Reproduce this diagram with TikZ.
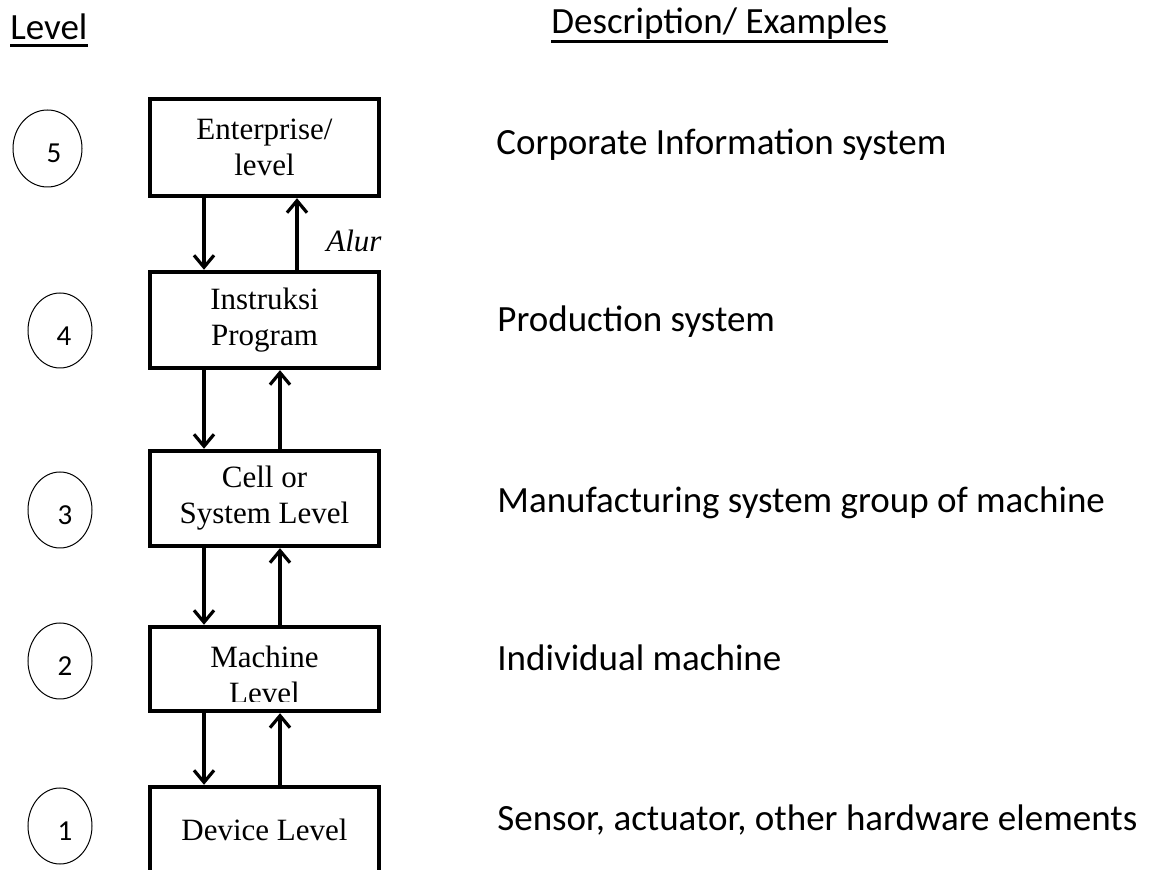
\documentclass[tikz,border=0pt]{standalone}
\usepackage{fontspec}
\setmainfont{Liberation Serif}
\newfontfamily\calfont{Carlito}
\usetikzlibrary{arrows.meta,shapes.geometric}
\tikzset{
  lvlbox/.style={draw, line width=2.2pt, minimum width=114.5pt, align=center,
    font=\fontsize{15.5}{18}\selectfont, inner sep=0pt},
  boxtext/.style={align=center, font=\fontsize{15.5}{18}\selectfont, inner sep=0pt},
  desc/.style={anchor=base west, font=\calfont\fontsize{18.5}{22}\selectfont, inner sep=0pt},
  lvlcirc/.style={draw, ellipse, line width=0.5pt, inner sep=0pt},
  lvlnum/.style={font=\calfont\fontsize{14.5}{17}\selectfont, inner sep=0pt},
  flow/.style={line width=1.6pt, -{Straight Barb[length=6pt,width=10pt]}},
  uline/.style={line width=1.5pt},
}
\begin{document}
\begin{tikzpicture}[x=0.5pt,y=-0.5pt]
\clip (0,0) rectangle (1157,870);
\fill[white] (0,0) rectangle (1157,870);

% headers
\node[desc] (hlevel) at (10,40) {Level};
\draw[uline] ([yshift=-3pt]hlevel.base west) -- ([yshift=-3pt]hlevel.base east);
\node[desc] (hdesc) at (551,34) {Description/ Examples};
\draw[uline] ([yshift=-4pt]hdesc.base west) -- ([yshift=-4pt]hdesc.base east);

% level boxes
\node[lvlbox, minimum height=48.5pt] (b5) at (264.5,147.5) {Enterprise/\\level};
\node[lvlbox, minimum height=48pt] (b4) at (264.5,320) {Instruksi\\Program};
\node[lvlbox, minimum height=47.5pt] (b3) at (264.5,498.5) {Cell or\\System Level};
\node[lvlbox, minimum height=42pt] (b2) at (264.5,669) {};
\node[lvlbox, minimum height=56.5pt] (b1) at (264.5,843.5) {};
\begin{scope}
  \clip (150,600) rectangle (379,702);
  \node[boxtext] (t2) at (264.5,675) {Machine\\Level};
\end{scope}
\node[boxtext] (t1) at (264.5,830) {Device Level};

% flows
\draw[flow] ([xshift=-30.25pt]b5.south) -- ([xshift=-30.25pt]b4.north);
\draw[flow] ([xshift=16.25pt]b4.north) -- ([xshift=16.25pt]b5.south);
\draw[flow] ([xshift=-30.25pt]b4.south) -- ([xshift=-30.25pt]b3.north);
\draw[flow] ([xshift=7.75pt]b3.north) -- ([xshift=7.75pt]b4.south);
\draw[flow] ([xshift=-30.25pt]b3.south) -- ([xshift=-30.25pt]b2.north);
\draw[flow] ([xshift=7.75pt]b2.north) -- ([xshift=7.75pt]b3.south);
\draw[flow] ([xshift=-30.25pt]b2.south) -- ([xshift=-30.25pt]b1.north);
\draw[flow] ([xshift=7.75pt]b1.north) -- ([xshift=7.75pt]b2.south);

\node[anchor=base west, inner sep=0pt, font=\itshape\fontsize{15.5}{18}\selectfont] (alur) at (326,252) {Alur};

% level circles
\node[lvlcirc, minimum width=34.5pt, minimum height=38.5pt] (c5) at (47.5,148.5) {};
\node[lvlcirc, minimum width=32pt, minimum height=37.5pt] (c4) at (60,330.5) {};
\node[lvlcirc, minimum width=32pt, minimum height=38pt] (c3) at (60,510) {};
\node[lvlcirc, minimum width=32pt, minimum height=38pt] (c2) at (60,661) {};
\node[lvlcirc, minimum width=32pt, minimum height=38pt] (c1) at (60,826) {};
\node[lvlnum] (n5) at (54,153.5) {5};
\node[lvlnum] (n4) at (64,336) {4};
\node[lvlnum] (n3) at (65,515) {3};
\node[lvlnum] (n2) at (65,666) {2};
\node[lvlnum] (n1) at (65,831) {1};

% descriptions
\node[desc] (d5) at (496,155) {Corporate Information system};
\node[desc] (d4) at (497,332) {Production system};
\node[desc] (d3) at (497,513) {Manufacturing system group of machine};
\node[desc] (d2) at (497,671) {Individual machine};
\node[desc] (d1) at (497,831) {Sensor, actuator, other hardware elements};
\end{tikzpicture}
\end{document}
